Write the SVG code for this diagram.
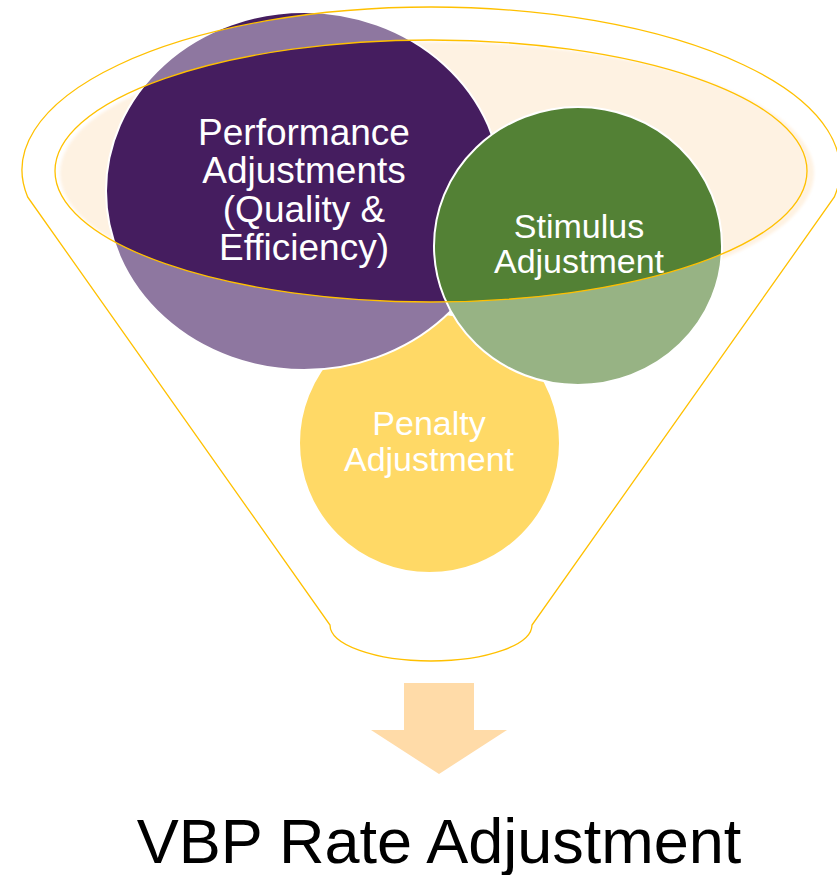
<svg xmlns="http://www.w3.org/2000/svg" width="837" height="875" viewBox="0 0 837 875">
  <style>
    .gold { fill: none; stroke: #FFC000; stroke-width: 1.3; }
    .edge { fill: none; stroke: #FFFFFF; stroke-width: 2; }
    .lbl { font-family: "Liberation Sans", Arial, sans-serif; fill: #FFFFFF; text-anchor: middle; }
    .title { font-family: "Liberation Sans", Arial, sans-serif; fill: #000000; text-anchor: middle; font-size: 63px; }
  </style>
  <defs>
    <filter id="soft" x="-5%" y="-5%" width="110%" height="110%">
      <feGaussianBlur stdDeviation="1.5"/>
    </filter>
    <mask id="dk" maskUnits="userSpaceOnUse" x="0" y="0" width="837" height="875">
      <rect x="0" y="0" width="837" height="875" fill="#FFFFFF"/>
      <path d="M27.65,197 L330,625 A101,36 0 0 0 532,625 L834.35,197 A409,163 0 1 0 27.65,197 Z" fill="#000000"/>
      <ellipse cx="431" cy="171" rx="376" ry="131" fill="#FFFFFF"/>
    </mask>
  </defs>

  <g id="funnel-back">
    <ellipse cx="437" cy="173" rx="377" ry="131" fill="#FEF2E2" filter="url(#soft)"/>
  </g>

  <g id="node-penalty">
    <ellipse cx="429.5" cy="443" rx="130.5" ry="130" fill="#FFD966"/>
    <ellipse class="edge" cx="429.5" cy="443" rx="130.5" ry="130"/>
    <text class="lbl" font-size="34" x="429" y="435">Penalty</text>
    <text class="lbl" font-size="34" x="429" y="471">Adjustment</text>
  </g>

  <g id="node-performance">
    <ellipse cx="304" cy="191" rx="198" ry="179" fill="#8E77A0"/>
    <ellipse cx="304" cy="191" rx="198" ry="179" fill="#451D5F" mask="url(#dk)"/>
    <ellipse class="edge" cx="304" cy="191" rx="198" ry="179"/>
    <text class="lbl" font-size="37" x="304" y="145">Performance</text>
    <text class="lbl" font-size="37" x="304" y="183">Adjustments</text>
    <text class="lbl" font-size="37" x="304" y="222">(Quality &amp;</text>
    <text class="lbl" font-size="37" x="304" y="260">Efficiency)</text>
  </g>

  <g id="node-stimulus">
    <ellipse cx="578" cy="246" rx="144" ry="139" fill="#97B384"/>
    <ellipse cx="578" cy="246" rx="144" ry="139" fill="#538135" mask="url(#dk)"/>
    <ellipse class="edge" cx="578" cy="246" rx="144" ry="139"/>
    <text class="lbl" font-size="34" x="579" y="238">Stimulus</text>
    <text class="lbl" font-size="34" x="579" y="273">Adjustment</text>
  </g>

  <g id="funnel-outline">
    <path class="gold" d="M27.65,197 L330,625 A101,36 0 0 0 532,625 L834.35,197 A409,163 0 1 0 27.65,197 Z"/>
    <ellipse class="gold" cx="431" cy="171" rx="376" ry="131"/>
  </g>

  <g id="connectors">
    <path d="M404,683 L474,683 L474,730 L507,730 L439,774 L371,730 L404,730 Z" fill="#FFDBA8"/>
  </g>

  <g id="node-result">
    <text class="title" x="439" y="863">VBP Rate Adjustment</text>
  </g>
</svg>
